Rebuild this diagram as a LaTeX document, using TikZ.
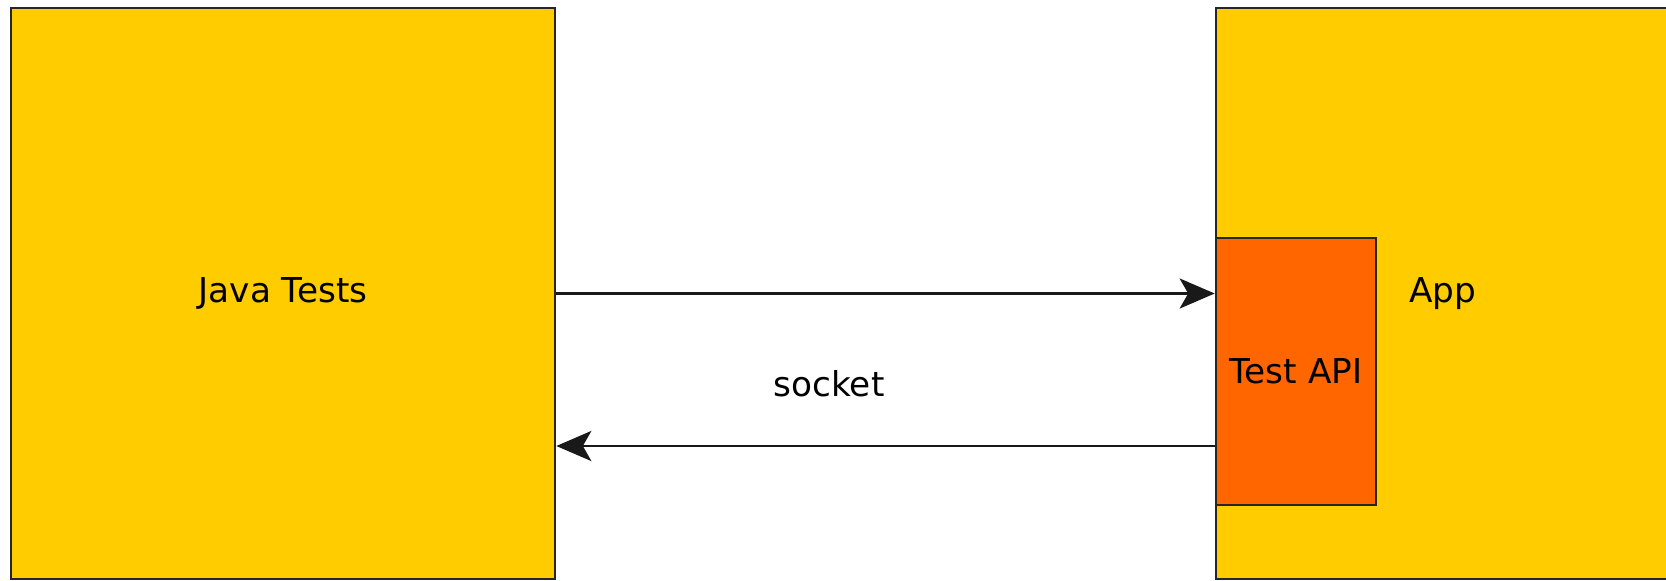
\documentclass[tikz,border=0pt]{standalone}
\usepackage{fontspec}
\setmainfont{DejaVu Sans}
\usetikzlibrary{arrows.meta}
\definecolor{boxyellow}{HTML}{FFCC00}
\definecolor{apiorange}{HTML}{FF6600}
\begin{document}
\begin{tikzpicture}
    \tikzset{
      block/.style={draw=black!85, line width=1.5pt, rectangle, fill=boxyellow, font=\fontsize{19.5}{23}\selectfont},
      apibox/.style={block, fill=apiorange},
      link/.style={-{Stealth[length=0.7cm, width=0.6cm, inset=0.17cm]}, line width=1.6pt, black!90}
    }
    \useasboundingbox (0,0) rectangle (33.32,-11.6);
    \clip (0,0) rectangle (33.32,-11.6);

    \node[block, minimum width=10.88cm, minimum height=11.42cm] (javatests) at (5.66, -5.87) {Java Tests};
    \node[block, minimum width=9.08cm, minimum height=11.42cm] (app) at (28.86, -5.87) {App};
    \node[apibox, minimum width=3.2cm, minimum height=5.34cm] (testapi) at (25.92, -7.43) {Test API};
    \node[font=\fontsize{19.5}{23}\selectfont] (socket) at (16.58, -7.68) {socket};

    \draw[link] (javatests.east) -- (javatests.east -| testapi.west);
    \draw[link] ([yshift=-1.49cm]testapi.west) -- ([yshift=-1.49cm]testapi.west -| javatests.east);
  \end{tikzpicture}
\end{document}
